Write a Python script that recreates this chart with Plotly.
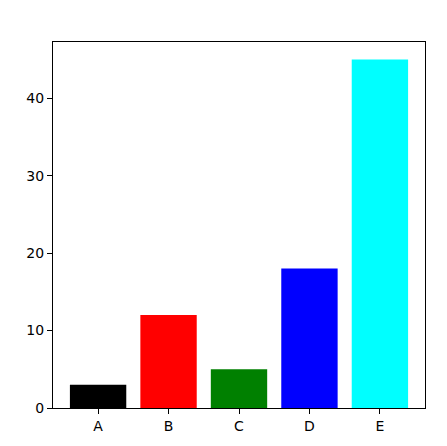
import plotly.graph_objects as go

# Bar chart data
categories = ["A", "B", "C", "D", "E"]
values = [3, 12, 5, 18, 45]
colors = ["black", "red", "green", "blue", "cyan"]

fig = go.Figure(go.Bar(x=categories, y=values, marker=dict(color=colors, line=dict(width=0))))

# page body adds an 8px offset, so margins are shifted to compensate
fig.update_layout(
    width=439, height=438,
    margin=dict(l=45, r=22, t=34, b=26),
    plot_bgcolor="white", paper_bgcolor="white",
    bargap=0.2,
    showlegend=False,
    font=dict(family="DejaVu Sans", size=14, color="black"),
)
fig.update_xaxes(range=[-0.64, 4.64], showgrid=False, showline=True, linecolor="black",
                 linewidth=1, mirror=True, ticks="outside", ticklen=5, tickcolor="black")
fig.update_yaxes(range=[0, 47.25], showgrid=False, showline=True, linecolor="black",
                 linewidth=1, mirror=True, ticks="outside", ticklen=5, tickcolor="black",
                 tickvals=[0, 10, 20, 30, 40], zeroline=False)

fig.write_html("out.html")
